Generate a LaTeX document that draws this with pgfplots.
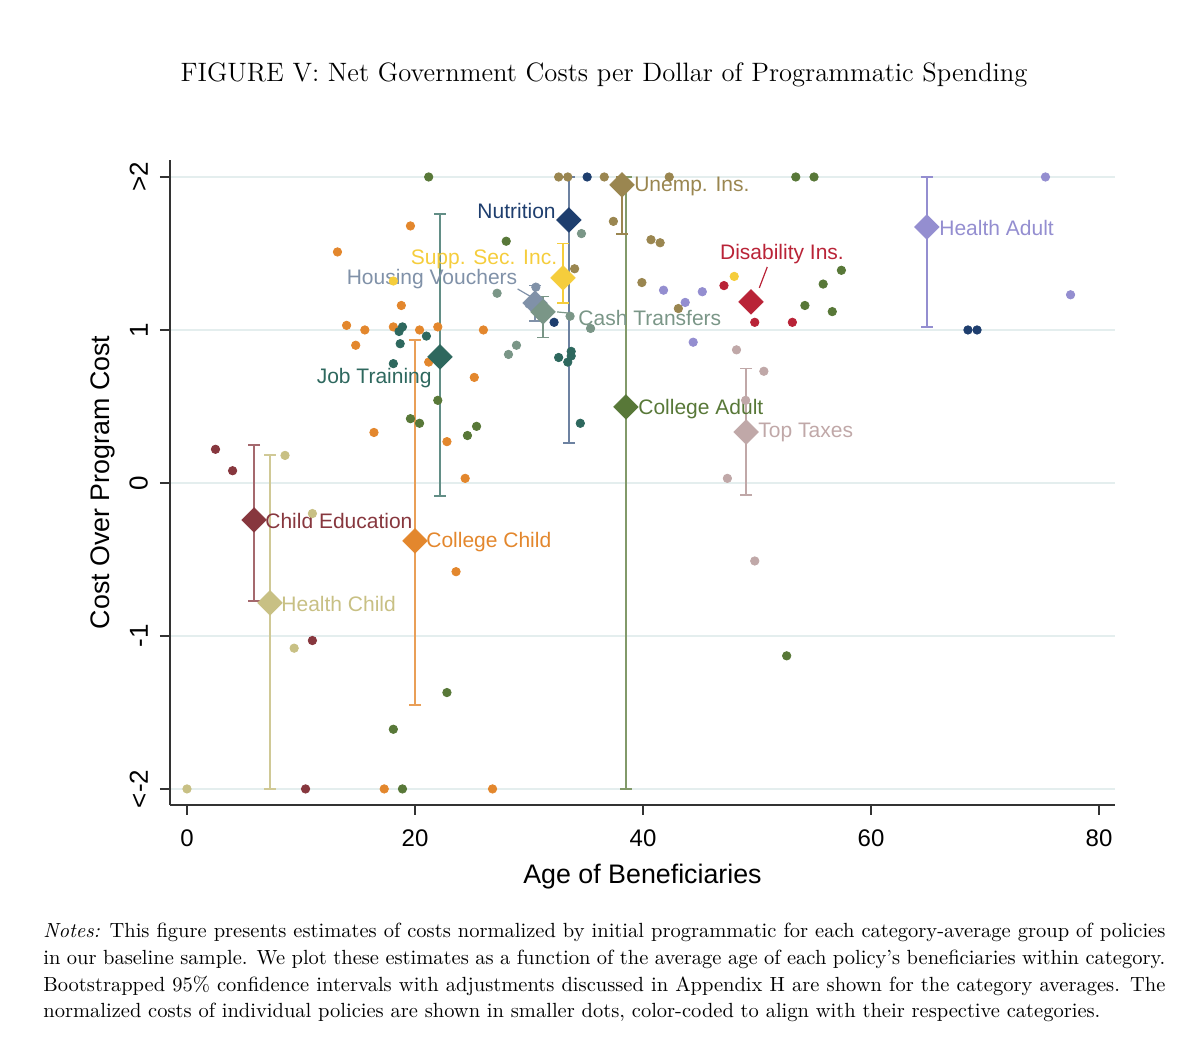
\documentclass[border=0pt]{standalone}
\usepackage{pgfplots}
\pgfplotsset{compat=1.18}
\usepackage{fontspec}
\newfontfamily\arial{Liberation Sans}
\definecolor{cChildEd}{RGB}{135,55,62}
\definecolor{cHealthChild}{RGB}{200,192,132}
\definecolor{cCollegeChild}{RGB}{227,135,45}
\definecolor{cJobTr}{RGB}{46,104,94}
\definecolor{cHousing}{RGB}{128,145,168}
\definecolor{cSSI}{RGB}{245,205,60}
\definecolor{cCash}{RGB}{122,150,135}
\definecolor{cNutr}{RGB}{30,62,110}
\definecolor{cUnemp}{RGB}{154,134,80}
\definecolor{cCollegeAdult}{RGB}{88,120,56}
\definecolor{cDisab}{RGB}{185,35,55}
\definecolor{cTopTax}{RGB}{192,168,168}
\definecolor{cHealthAdult}{RGB}{148,142,208}
\definecolor{gridc}{RGB}{228,238,238}
\pgfplotsset{
  dots/.style={only marks, mark=*, mark size=2.1pt, color=#1, mark options={draw=#1, fill=#1}},
  ci/.style={color=#1, line width=0.8pt, mark=-, mark size=3pt, mark options={line width=0.8pt, draw=#1}},
  dia/.style={only marks, mark=square*, mark size=4.3pt, mark options={rotate=45, draw=#1, fill=#1}},
}
\tikzset{lab/.style={font=\arial\fontsize{10.5}{12}\selectfont, text=#1, inner sep=0pt}}
\begin{document}
\begin{tikzpicture}
\useasboundingbox (0,0) rectangle (600pt,522pt);
\node[anchor=base, font=\fontsize{13.3}{15}\selectfont] at (302pt,481pt) {FIGURE V: Net Government Costs per Dollar of Programmatic Spending};
\begin{axis}[
  at={(85pt,119.5pt)}, anchor=south west,
  width=472.5pt, height=322.5pt, scale only axis,
  xmin=-1.49, xmax=81.4, ymin=-2.105, ymax=2.111,
  axis x line*=bottom, axis y line*=left,
  axis line style={line width=0.8pt, black!80},
  xtick={0,20,40,60,80}, xticklabels={0,20,40,60,80},
  ytick={-2,-1,0,1,2}, yticklabels={<-2,-1,0,1,>2},
  tick align=outside, major tick length=5pt,
  tick style={line width=0.8pt, black!80},
  ymajorgrids, grid style={line width=1pt, gridc},
  xticklabel style={font=\arial\fontsize{12}{14}\selectfont},
  yticklabel style={font=\arial\fontsize{13}{15}\selectfont, rotate=90, anchor=south},
  xticklabel shift={4pt}, yticklabel shift={2.5pt},
  xlabel={Age of Beneficiaries}, ylabel={Cost Over Program Cost},
  label style={font=\arial\fontsize{13.4}{16}\selectfont},
  xlabel style={at={(axis description cs:0.5,-0.111)}, anchor=center},
  ylabel style={at={(axis description cs:-0.0715,0.5)}, anchor=center},
  clip=false,
]
% confidence intervals (lower bound, upper bound)
\addplot[ci=cChildEd!75!white] coordinates {(5.88,-0.771) (5.88,0.248)};
\addplot[ci=cHealthChild!85!white] coordinates {(7.28,-2.0) (7.28,0.183)};
\addplot[ci=cCollegeChild!80!white] coordinates {(20.0,-1.451) (20.0,0.935)};
\addplot[ci=cJobTr!75!white] coordinates {(22.19,-0.085) (22.19,1.758)};
\addplot[ci=cHousing] coordinates {(30.53,1.06) (30.53,1.29)};
\addplot[ci=cCash] coordinates {(31.23,0.95) (31.23,1.22)};
\addplot[ci=cSSI] coordinates {(32.98,1.178) (32.98,1.566)};
\addplot[ci=cNutr!65!white] coordinates {(33.5,0.261) (33.5,2.0)};
\addplot[ci=cUnemp] coordinates {(38.16,1.627) (38.16,2.0)};
\addplot[ci=cCollegeAdult!75!white] coordinates {(38.5,-2.0) (38.5,2.0)};
\addplot[ci=cTopTax] coordinates {(49.04,-0.078) (49.04,0.747)};
\addplot[ci=cHealthAdult] coordinates {(64.9,1.02) (64.9,2.0)};
% individual policies
\addplot[dots=cChildEd] coordinates {(2.5,0.22) (4.0,0.08) (11.0,-1.03) (10.4,-2.0)};
\addplot[dots=cHealthChild] coordinates {(8.6,0.18) (11.0,-0.20) (9.4,-1.08) (0,-2.0)};
\addplot[dots=cCollegeChild] coordinates {(19.6,1.68) (13.2,1.51) (18.8,1.16) (14.0,1.03) (15.6,1.0) (18.1,1.02) (20.4,1.0) (22.0,1.02) (26.0,1.0) (14.8,0.90) (21.2,0.79) (25.2,0.69) (16.4,0.33) (22.8,0.27) (24.4,0.03) (23.6,-0.58) (17.3,-2.0) (26.8,-2.0)};
\addplot[dots=cJobTr] coordinates {(18.6,0.99) (18.9,1.02) (21.0,0.96) (18.7,0.91) (18.1,0.78) (32.6,0.82) (33.7,0.86) (33.7,0.83) (33.4,0.79) (34.5,0.39)};
\addplot[dots=cHousing] coordinates {(30.6,1.28) (30.0,1.17)};
\addplot[dots=cSSI] coordinates {(18.1,1.32) (48.0,1.35)};
\addplot[dots=cCash] coordinates {(34.6,1.63) (27.2,1.24) (33.6,1.09) (35.4,1.01) (28.9,0.90) (28.2,0.84)};
\addplot[dots=cNutr] coordinates {(35.1,2.0) (32.2,1.05) (68.5,1.0) (69.3,1.0)};
\addplot[dots=cUnemp] coordinates {(32.6,2.0) (33.4,2.0) (36.6,2.0) (42.3,2.0) (37.4,1.71) (40.7,1.59) (41.5,1.57) (34.0,1.40) (39.9,1.31) (43.1,1.14)};
\addplot[dots=cCollegeAdult] coordinates {(21.2,2.0) (53.4,2.0) (55.0,2.0) (28.0,1.58) (57.4,1.39) (55.8,1.30) (54.2,1.16) (56.6,1.12) (22.0,0.54) (19.6,0.42) (20.4,0.39) (25.4,0.37) (24.6,0.31) (22.8,-1.37) (18.1,-1.61) (18.9,-2.0) (52.6,-1.13)};
\addplot[dots=cDisab] coordinates {(47.1,1.29) (49.8,1.05) (53.1,1.05)};
\addplot[dots=cTopTax] coordinates {(48.2,0.87) (50.6,0.73) (49.0,0.54) (47.4,0.03) (49.8,-0.51)};
\addplot[dots=cHealthAdult] coordinates {(41.8,1.26) (45.2,1.25) (43.7,1.18) (44.4,0.92) (75.3,2.0) (77.5,1.23)};
% category averages
\addplot[dia=cChildEd] coordinates {(5.88,-0.242)};
\addplot[dia=cHealthChild] coordinates {(7.28,-0.784)};
\addplot[dia=cCollegeChild] coordinates {(20.0,-0.379)};
\addplot[dia=cJobTr] coordinates {(22.19,0.824)};
\addplot[dia=cHousing] coordinates {(30.53,1.176)};
\addplot[dia=cCash] coordinates {(31.23,1.118)};
\addplot[dia=cSSI] coordinates {(32.98,1.34)};
\addplot[dia=cNutr] coordinates {(33.5,1.719)};
\addplot[dia=cUnemp] coordinates {(38.16,1.948)};
\addplot[dia=cCollegeAdult] coordinates {(38.5,0.497)};
\addplot[dia=cDisab] coordinates {(49.47,1.183)};
\addplot[dia=cTopTax] coordinates {(49.04,0.333)};
\addplot[dia=cHealthAdult] coordinates {(64.9,1.673)};
% labels
\draw[cHousing, line width=0.6pt] (axis cs:29.0,1.268) -- (axis cs:30.2,1.216);
\draw[cCash, line width=0.6pt] (axis cs:32.46,1.118) -- (axis cs:33.4,1.111);
\draw[cDisab, line width=0.6pt] (axis cs:50.9,1.412) -- (axis cs:50.2,1.275);
\node[lab=cChildEd, anchor=west] at (axis cs:6.84,-0.248) {Child Education};
\node[lab=cHealthChild, anchor=west] at (axis cs:8.25,-0.79) {Health Child};
\node[lab=cCollegeChild, anchor=west] at (axis cs:20.96,-0.386) {College Child};
\node[lab=cJobTr, anchor=east] at (axis cs:21.49,0.686) {Job Training};
\node[lab=cHousing, anchor=east] at (axis cs:29.0,1.333) {Housing Vouchers};
\node[lab=cSSI, anchor=east] at (axis cs:32.5,1.464) {Supp. Sec. Inc.};
\node[lab=cNutr, anchor=east] at (axis cs:32.37,1.778) {Nutrition};
\node[lab=cUnemp, anchor=west] at (axis cs:39.2,1.935) {Unemp. Ins.};
\node[lab=cCollegeAdult, anchor=west] at (axis cs:39.56,0.484) {College Adult};
\node[lab=cCash, anchor=west] at (axis cs:34.3,1.078) {Cash Transfers};
\node[lab=cDisab, anchor=center] at (axis cs:52.19,1.497) {Disability Ins.};
\node[lab=cTopTax, anchor=west] at (axis cs:50.09,0.327) {Top Taxes};
\node[lab=cHealthAdult, anchor=west] at (axis cs:65.96,1.667) {Health Adult};
\end{axis}
\begin{scope}[every node/.style={anchor=base west, inner sep=0pt, font=\fontsize{10.25}{12}\selectfont}]
\node at (21.5pt,53pt) {\makebox[561pt][s]{\textit{Notes:} This figure presents estimates of costs normalized by initial programmatic for each category-average group of policies}};
\node at (21.5pt,39.67pt) {\makebox[561pt][s]{in our baseline sample. We plot these estimates as a function of the average age of each policy's beneficiaries within category.}};
\node at (21.5pt,26.33pt) {\makebox[561pt][s]{Bootstrapped 95\% confidence intervals with adjustments discussed in Appendix H are shown for the category averages. The}};
\node at (21.5pt,13pt) {normalized costs of individual policies are shown in smaller dots, color-coded to align with their respective categories.};
\end{scope}
\end{tikzpicture}
\end{document}
